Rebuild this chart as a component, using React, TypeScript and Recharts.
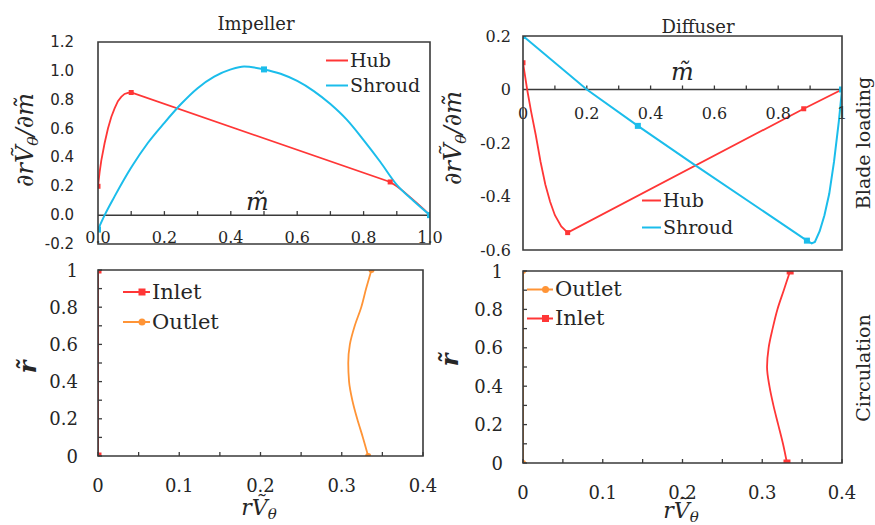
import React from 'react';
import {
  LineChart,
  Line,
  XAxis,
  YAxis,
  ReferenceLine,
  ReferenceDot,
  Legend,
} from 'recharts';

// ---------- Impeller blade loading ----------
const impHubM = [0, 0.005, 0.01, 0.02, 0.03, 0.04, 0.05, 0.06, 0.07, 0.08, 0.09, 0.1, 0.88, 0.9, 0.92, 0.94, 0.96, 0.98, 1];
const impHubV = [0.2, 0.3, 0.38, 0.5, 0.6, 0.68, 0.74, 0.79, 0.82, 0.84, 0.848, 0.85, 0.23, 0.2, 0.165, 0.125, 0.085, 0.043, 0];
const impHubMarks = [0, 0.1, 0.88, 1];
const impShroudM = [0, 0.02, 0.05, 0.1, 0.15, 0.2, 0.25, 0.3, 0.35, 0.4, 0.44, 0.5, 0.55, 0.6, 0.65, 0.7, 0.75, 0.8, 0.85, 0.9, 0.95, 1];
const impShroudV = [-0.1, 0, 0.13, 0.33, 0.5, 0.64, 0.77, 0.88, 0.96, 1.01, 1.03, 1.01, 0.98, 0.93, 0.86, 0.77, 0.66, 0.52, 0.37, 0.21, 0.1, 0];
const impShroudMarks = [0, 0.5, 1];

// ---------- Diffuser blade loading ----------
const difHubM = [0, 0.013, 0.025, 0.04, 0.055, 0.07, 0.085, 0.1, 0.12, 0.14, 0.88, 1];
const difHubV = [0.1, 0, -0.08, -0.17, -0.27, -0.355, -0.42, -0.47, -0.512, -0.535, -0.072, 0];
const difHubMarks = [0, 0.14, 0.88, 1];
const difShroudM = [0, 0.2, 0.36, 0.53, 0.89, 0.905, 0.915, 0.93, 0.945, 0.96, 0.975, 0.99, 1];
const difShroudV = [0.2, 0, -0.136, -0.275, -0.565, -0.575, -0.57, -0.53, -0.47, -0.39, -0.27, -0.12, 0];
const difShroudMarks = [0, 0.36, 0.89, 1];

// ---------- Circulation ----------
const rValues = [0, 0.1, 0.2, 0.3, 0.4, 0.5, 0.6, 0.7, 0.8, 0.9, 1];
const impInlet = [0, 0, 0, 0, 0, 0, 0, 0, 0, 0, 0];
const impOutlet = [0.3325, 0.326, 0.319, 0.313, 0.309, 0.308, 0.31, 0.316, 0.324, 0.33, 0.3366];
const difOutlet = [0, 0, 0, 0, 0, 0, 0, 0, 0, 0, 0];
const difInlet = [0.331, 0.326, 0.32, 0.314, 0.309, 0.306, 0.308, 0.313, 0.319, 0.327, 0.335];
const circMarks = [0, 1];

// ---------- Ticks ----------
const impYTicks = [-0.2, 0, 0.2, 0.4, 0.6, 0.8, 1, 1.2];
const impXLabels = [0, 0.2, 0.4, 0.6, 0.8, 1];
const mMinorTicks = [0.1, 0.2, 0.3, 0.4, 0.5, 0.6, 0.7, 0.8, 0.9];
const difYTicks = [-0.6, -0.4, -0.2, 0, 0.2];
const difXLabels = [0, 0.2, 0.4, 0.6, 0.8, 1];
const circXTicks = [0, 0.05, 0.1, 0.15, 0.2, 0.25, 0.3, 0.35, 0.4];
const circYTicks = rValues;

const SERIF = "'DejaVu Serif', 'Liberation Serif', serif";
const SANS = "'DejaVu Sans', 'Liberation Sans', sans-serif";
const INK = '#262626';
const FRAME = '#3a3a3a';
const RED = '#FF3636';
const BLUE = '#1BBDEB';
const ORANGE = '#FF9436';

// ---------- panel layout (chart boxes, margins, axis sizes) ----------
type Panel = { left: number; top: number; w: number; h: number; m: { top: number; right: number; bottom: number; left: number }; yw: number; xh: number };
const PANELS: Record<string, Panel> = {
  imp: { left: 0, top: 0, w: 446, h: 262, m: { top: 42, right: 16, bottom: 8, left: 58 }, yw: 40, xh: 10 },
  dif: { left: 440, top: 0, w: 435, h: 262, m: { top: 36, right: 33, bottom: 12, left: 43 }, yw: 40, xh: 0 },
  impC: { left: 0, top: 255, w: 440, h: 270, m: { top: 15, right: 17, bottom: 39, left: 58 }, yw: 40, xh: 30 },
  difC: { left: 440, top: 255, w: 435, h: 270, m: { top: 16, right: 33, bottom: 32, left: 43 }, yw: 40, xh: 30 },
};
const plotRect = (p: Panel) => ({
  x: p.left + p.m.left + p.yw,
  y: p.top + p.m.top,
  width: p.w - p.m.left - p.yw - p.m.right,
  height: p.h - p.m.top - p.m.bottom - p.xh,
});
const boxStyle = (p: Panel): React.CSSProperties => ({ position: 'absolute', left: p.left, top: p.top });

const impHubRows = impHubM.map((m, i) => ({ m, v: impHubV[i] }));
const impShroudRows = impShroudM.map((m, i) => ({ m, v: impShroudV[i] }));
const difHubRows = difHubM.map((m, i) => ({ m, v: difHubV[i] }));
const difShroudRows = difShroudM.map((m, i) => ({ m, v: difShroudV[i] }));
const impCircRows = rValues.map((r, i) => ({ r, inlet: impInlet[i], outlet: impOutlet[i] }));
const difCircRows = rValues.map((r, i) => ({ r, inlet: difInlet[i], outlet: difOutlet[i] }));

const isMult = (v: number, step: number) => Math.abs(v / step - Math.round(v / step)) < 1e-6;
const fmtPlain = (v: number) => (Math.abs(v) < 1e-9 ? '0' : String(Math.round(v * 100) / 100));

type Kind = 'square' | 'circle';
const markerDot = (marks: number[], key: string, kind: Kind, size: number, color: string) => (p: any) => {
  const val = p?.payload?.[key];
  const k = `dot-${p.index}`;
  if (!marks.some((mk) => Math.abs(mk - val) < 1e-9) || p.cx == null || p.cy == null) return <g key={k} />;
  if (kind === 'circle') return <circle key={k} cx={p.cx} cy={p.cy} r={size / 2} fill={color} />;
  return <rect key={k} x={p.cx - size / 2} y={p.cy - size / 2} width={size} height={size} fill={color} />;
};

// ---------- tick renderers ----------
const ImpYTick = (p: any) => (
  <text x={p.x - 24} y={p.y} textAnchor="end" dominantBaseline="central" fontFamily={SANS} fontSize={15} fill={INK}>
    {Number(p.payload.value).toFixed(1)}
  </text>
);
const ImpXTick = (p: any) => (
  <text x={p.x} y={p.y - 1} textAnchor="middle" fontFamily={SERIF} fontSize={16} fill={INK}>
    {Number(p.payload.value).toFixed(1)}
  </text>
);
const DifYTick = (p: any) => (
  <text x={p.x - 12} y={p.y} textAnchor="end" dominantBaseline="central" fontFamily={SERIF} fontSize={16} fill={INK}>
    {fmtPlain(Number(p.payload.value))}
  </text>
);
const CircXTick = (p: any) => {
  const v = Number(p.payload.value);
  return (
    <g>
      <line x1={p.x} x2={p.x} y1={p.y} y2={p.y - 4} stroke={FRAME} strokeWidth={1.3} />
      {isMult(v, 0.1) && (
        <text x={p.x} y={p.y + 29} textAnchor="middle" dominantBaseline="central" fontFamily={SERIF} fontSize={18} fill={INK}>
          {fmtPlain(v)}
        </text>
      )}
    </g>
  );
};
const CircYTick = (p: any) => {
  const v = Number(p.payload.value);
  return (
    <g>
      <line x1={p.x} x2={p.x + 4} y1={p.y} y2={p.y} stroke={FRAME} strokeWidth={1.3} />
      {isMult(v, 0.2) && (
        <text x={p.x - 20} y={p.y} textAnchor="end" dominantBaseline="central" fontFamily={SERIF} fontSize={18} fill={INK}>
          {fmtPlain(v)}
        </text>
      )}
    </g>
  );
};

// ---------- legend ----------
const legendContent =
  (o: { font: number; rowH: number; lineLen: number; order: string[]; markers?: Record<string, Kind> }) => (props: any) => {
    const items = [...(props.payload || [])].sort((a: any, b: any) => o.order.indexOf(a.value) - o.order.indexOf(b.value));
    return (
      <div style={{ display: 'flex', flexDirection: 'column' }}>
        {items.map((e: any) => {
          const mk = o.markers?.[e.value];
          const c = o.rowH / 2;
          return (
            <div key={e.value} style={{ display: 'flex', alignItems: 'center', height: o.rowH, whiteSpace: 'nowrap' }}>
              <svg width={o.lineLen} height={o.rowH} style={{ display: 'block' }}>
                <line x1={0} x2={o.lineLen} y1={c} y2={c} stroke={e.color} strokeWidth={2} />
                {mk === 'square' && <rect x={o.lineLen / 2 + 2} y={c - 3.5} width={7} height={7} fill={e.color} />}
                {mk === 'circle' && <circle cx={o.lineLen / 2 + 5.5} cy={c} r={3.5} fill={e.color} />}
              </svg>
              <span style={{ fontFamily: SERIF, fontSize: o.font, color: INK, marginLeft: 2, lineHeight: 1 }}>{e.value}</span>
            </div>
          );
        })}
      </div>
    );
  };

const mLabel = (dy: number) => (p: any) =>
  (
    <text x={p.cx} y={p.cy + dy} textAnchor="middle" fontFamily={SERIF} fontStyle="italic" fontSize={24} fill={INK}>
      m&#x0303;
    </text>
  );

const difXLabelShape = (v: number) => (p: any) =>
  (
    <text x={p.cx} y={p.cy + 24} textAnchor="middle" dominantBaseline="central" fontFamily={SERIF} fontSize={16} fill={INK}>
      {fmtPlain(v)}
    </text>
  );

const DerivLabel = ({ cx, cy }: { cx: number; cy: number }) => {
  const s = 24;
  const bx = cx + 8;
  return (
    <text x={bx} y={cy} transform={`rotate(-90 ${bx} ${cy})`} textAnchor="middle" fontFamily={SERIF} fontStyle="italic" fontSize={s} fill={INK}>
      ∂r<tspan>Ṽ</tspan>
      <tspan fontSize={s * 0.65} dy={s * 0.22}>θ</tspan>
      <tspan dy={-s * 0.22}>/∂m&#x0303;</tspan>
    </text>
  );
};

const RVLabel = ({ cx, y }: { cx: number; y: number }) => (
  <text x={cx} y={y} textAnchor="middle" fontFamily={SERIF} fontStyle="italic" fontSize={22} fill={INK}>
    r<tspan>Ṽ</tspan>
    <tspan fontSize={15} dy={4}>θ</tspan>
  </text>
);

const RLabel = ({ cx, cy }: { cx: number; cy: number }) => {
  const bx = cx + 8;
  return (
    <text x={bx} y={cy} transform={`rotate(-90 ${bx} ${cy})`} textAnchor="middle" fontFamily={SERIF} fontStyle="italic" fontWeight="bold" fontSize={24} fill={INK}>
      r&#x0303;
    </text>
  );
};

const SideLabel = ({ x, cy, text }: { x: number; cy: number; text: string }) => (
  <text x={x} y={cy} transform={`rotate(-90 ${x} ${cy})`} textAnchor="middle" fontFamily={SERIF} fontSize={19} fill={INK}>
    {text}
  </text>
);

const axisCommon = { axisLine: false, tickLine: false, tickSize: 0, tickMargin: 0, interval: 0 as const, allowDataOverflow: true };

export default function App() {
  const { imp, dif, impC, difC } = PANELS;
  return (
    <div style={{ position: 'absolute', left: 0, top: 0, width: 875, height: 525, background: '#fff', overflow: 'hidden' }}>
      {/* Impeller blade loading */}
      <div style={boxStyle(imp)}>
        <LineChart width={imp.w} height={imp.h} margin={imp.m}>
          <XAxis type="number" dataKey="m" domain={[0, 1]} ticks={impXLabels} height={imp.xh} tick={ImpXTick} {...axisCommon} />
          <YAxis type="number" domain={[-0.2, 1.2]} ticks={impYTicks} width={imp.yw} tick={ImpYTick} {...axisCommon} />
          <ReferenceLine y={0} stroke={FRAME} strokeWidth={1.5} />
          {mMinorTicks.map((m) => (
            <ReferenceLine key={`it${m}`} segment={[{ x: m, y: 0 }, { x: m, y: 0.028 }]} stroke={FRAME} strokeWidth={1.3} />
          ))}
          <ReferenceDot x={0.48} y={0} r={1} ifOverflow="visible" shape={mLabel(-5)} />
          <Line name="Hub" data={impHubRows} dataKey="v" type="linear" stroke={RED} strokeWidth={1.8}
            dot={markerDot(impHubMarks, 'm', 'square', 5, RED)} activeDot={false} isAnimationActive={false} />
          <Line name="Shroud" data={impShroudRows} dataKey="v" type="monotone" stroke={BLUE} strokeWidth={2}
            dot={markerDot(impShroudMarks, 'm', 'square', 6, BLUE)} activeDot={false} isAnimationActive={false} />
          <Legend layout="vertical" align="center" verticalAlign="middle"
            wrapperStyle={{ left: 326, top: 48, width: 'auto', height: 'auto' }}
            content={legendContent({ font: 19, rowH: 25, lineLen: 22, order: ['Hub', 'Shroud'] })} />
        </LineChart>
      </div>

      {/* Diffuser blade loading */}
      <div style={boxStyle(dif)}>
        <LineChart width={dif.w} height={dif.h} margin={dif.m}>
          <XAxis type="number" dataKey="m" domain={[0, 1]} hide allowDataOverflow />
          <YAxis type="number" domain={[-0.6, 0.2]} ticks={difYTicks} width={dif.yw} tick={DifYTick} {...axisCommon} />
          <ReferenceLine y={0} stroke={FRAME} strokeWidth={1.5} />
          {mMinorTicks.map((m) => (
            <ReferenceLine key={`dt${m}`} segment={[{ x: m, y: 0 }, { x: m, y: 0.015 }]} stroke={FRAME} strokeWidth={1.3} />
          ))}
          {difXLabels.map((v) => (
            <ReferenceDot key={`dl${v}`} x={v} y={0} r={1} ifOverflow="visible" shape={difXLabelShape(v)} />
          ))}
          <ReferenceDot x={0.5} y={0} r={1} ifOverflow="visible" shape={mLabel(-10)} />
          <Line name="Hub" data={difHubRows} dataKey="v" type="linear" stroke={RED} strokeWidth={1.8}
            dot={markerDot(difHubMarks, 'm', 'square', 5, RED)} activeDot={false} isAnimationActive={false} />
          <Line name="Shroud" data={difShroudRows} dataKey="v" type="linear" stroke={BLUE} strokeWidth={2}
            dot={markerDot(difShroudMarks, 'm', 'square', 6, BLUE)} activeDot={false} isAnimationActive={false} />
          <Legend layout="vertical" align="center" verticalAlign="middle"
            wrapperStyle={{ left: 202, top: 187, width: 'auto', height: 'auto' }}
            content={legendContent({ font: 19, rowH: 27, lineLen: 19, order: ['Hub', 'Shroud'] })} />
        </LineChart>
      </div>

      {/* Impeller circulation */}
      <div style={boxStyle(impC)}>
        <LineChart layout="vertical" data={impCircRows} width={impC.w} height={impC.h} margin={impC.m}>
          <XAxis type="number" domain={[0, 0.4]} ticks={circXTicks} height={impC.xh} tick={CircXTick} {...axisCommon} />
          <YAxis type="number" dataKey="r" domain={[0, 1]} reversed ticks={circYTicks} width={impC.yw} tick={CircYTick} {...axisCommon} />
          <Line name="Inlet" dataKey="inlet" type="linear" stroke={RED} strokeWidth={2}
            dot={markerDot(circMarks, 'r', 'square', 7, RED)} activeDot={false} isAnimationActive={false} />
          <Line name="Outlet" dataKey="outlet" type="monotone" stroke={ORANGE} strokeWidth={1.8}
            dot={markerDot(circMarks, 'r', 'circle', 6, ORANGE)} activeDot={false} isAnimationActive={false} />
          <Legend layout="vertical" align="center" verticalAlign="middle"
            wrapperStyle={{ left: 123, top: 22, width: 'auto', height: 'auto' }}
            content={legendContent({ font: 21, rowH: 30, lineLen: 27, order: ['Inlet', 'Outlet'], markers: { Inlet: 'square', Outlet: 'circle' } })} />
        </LineChart>
      </div>

      {/* Diffuser circulation */}
      <div style={boxStyle(difC)}>
        <LineChart layout="vertical" data={difCircRows} width={difC.w} height={difC.h} margin={difC.m}>
          <XAxis type="number" domain={[0, 0.4]} ticks={circXTicks} height={difC.xh} tick={CircXTick} {...axisCommon} />
          <YAxis type="number" dataKey="r" domain={[0, 1]} reversed ticks={circYTicks} width={difC.yw} tick={CircYTick} {...axisCommon} />
          <Line name="Outlet" dataKey="outlet" type="linear" stroke={ORANGE} strokeWidth={2}
            dot={markerDot(circMarks, 'r', 'circle', 6, ORANGE)} activeDot={false} isAnimationActive={false} />
          <Line name="Inlet" dataKey="inlet" type="monotone" stroke={RED} strokeWidth={1.8}
            dot={markerDot(circMarks, 'r', 'square', 7, RED)} activeDot={false} isAnimationActive={false} />
          <Legend layout="vertical" align="center" verticalAlign="middle"
            wrapperStyle={{ left: 87, top: 20, width: 'auto', height: 'auto' }}
            content={legendContent({ font: 21, rowH: 29, lineLen: 26, order: ['Outlet', 'Inlet'], markers: { Inlet: 'square', Outlet: 'circle' } })} />
        </LineChart>
      </div>

      {/* plot frames (derived from the chart layout), titles and axis titles */}
      <svg width={875} height={525} style={{ position: 'absolute', left: 0, top: 0, pointerEvents: 'none', zIndex: 5 }}>
        {[imp, dif, impC, difC].map((p, i) => {
          const r = plotRect(p);
          return (
            <path
              key={`f${i}`}
              d={`M${r.x},${r.y}H${r.x + r.width}V${r.y + r.height}H${r.x}Z`}
              fill="none"
              stroke={FRAME}
              strokeWidth={1.6}
            />
          );
        })}
        <text x={256} y={30} textAnchor="middle" fontFamily={SERIF} fontSize={18} fill={INK}>Impeller</text>
        <text x={698} y={33} textAnchor="middle" fontFamily={SERIF} fontSize={18} fill={INK}>Diffuser</text>
        <SideLabel x={870} cy={143} text="Blade loading" />
        <SideLabel x={870} cy={368} text="Circulation" />
        <DerivLabel cx={25} cy={140} />
        <DerivLabel cx={453} cy={138} />
        <RLabel cx={28} cy={367} />
        <RLabel cx={450} cy={360} />
        <RVLabel cx={259} y={515} />
        <RVLabel cx={681} y={518} />
      </svg>
    </div>
  );
}
